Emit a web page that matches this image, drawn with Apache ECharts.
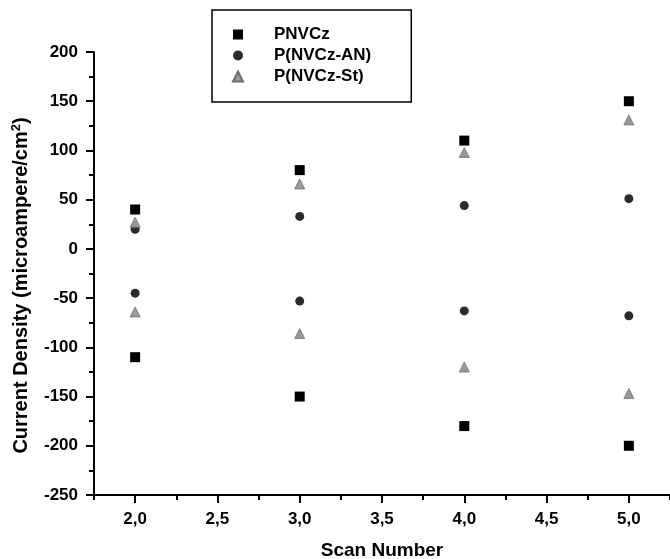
<!DOCTYPE html>
<html>
<head>
<meta charset="utf-8">
<script src="https://cdn.jsdelivr.net/npm/echarts@6/dist/echarts.min.js"></script>
<style>
  html, body { margin: 0; padding: 0; background: #fff; }
  #chart { width: 670px; height: 559px; }
</style>
</head>
<body>
<div id="chart"></div>
<script>
// Scan numbers and the anodic / cathodic current densities measured at each scan
const scans = [2, 3, 4, 5];
const pnvczUpper = [40, 80, 110, 150];
const pnvczLower = [-110, -150, -180, -200];
const anUpper = [20, 33, 44, 51];
const anLower = [-45, -53, -63, -68];
const stUpper = [27, 66, 98, 131];
const stLower = [-64, -86, -120, -147];

const seriesNames = ['PNVCz', 'P(NVCz-AN)', 'P(NVCz-St)'];

// Axis ticks
const xMajorTicks = [2.0, 2.5, 3.0, 3.5, 4.0, 4.5, 5.0];
const yTicks = [-250, -200, -150, -100, -50, 0, 50, 100, 150, 200];

const FONT = '"Liberation Sans", Arial, sans-serif';

function pairs(upper, lower) {
  const out = [];
  scans.forEach((s, i) => {
    out.push([s, upper[i]]);
    out.push([s, lower[i]]);
  });
  return out;
}

const chart = echarts.init(document.getElementById('chart'), null, { renderer: 'canvas' });

const axisLabelStyle = { color: '#000', fontFamily: FONT, fontWeight: 'bold', fontSize: 17 };

chart.setOption({
  animation: false,
  backgroundColor: '#fff',
  grid: { left: 94, right: 0, top: 52, bottom: 64, containLabel: false, outerBoundsMode: 'none' },
  legend: {
    orient: 'vertical',
    left: 212,
    top: 10,
    padding: [16, 40, 17, 20],
    borderColor: '#000',
    borderWidth: 1.5,
    itemWidth: 10,
    itemHeight: 10,
    itemGap: 4,
    data: seriesNames,
    textStyle: {
      color: '#000', fontFamily: FONT, fontWeight: 'bold', fontSize: 17,
      lineHeight: 17, padding: [0, 0, 0, 26]
    }
  },
  xAxis: [
    {
      // quarter-step minor ticks, labels on the half steps
      type: 'value',
      min: 1.75,
      max: 5.25,
      interval: 0.25,
      name: 'Scan Number',
      nameLocation: 'middle',
      nameGap: 46,
      nameTextStyle: { color: '#000', fontFamily: FONT, fontWeight: 'bold', fontSize: 19 },
      axisLine: { show: true, onZero: false, lineStyle: { color: '#000', width: 2 } },
      axisTick: { show: true, inside: false, length: 5, lineStyle: { color: '#000', width: 2 } },
      axisLabel: Object.assign({
        margin: 16,
        customValues: xMajorTicks,
        formatter: v => v.toFixed(1).replace('.', ',')
      }, axisLabelStyle),
      splitLine: { show: false }
    },
    {
      // longer major ticks at the labelled values
      type: 'value',
      position: 'bottom',
      min: 1.75,
      max: 5.25,
      interval: 0.25,
      axisLine: { show: false, onZero: false },
      axisTick: { show: true, inside: false, length: 8, customValues: xMajorTicks,
                  lineStyle: { color: '#000', width: 2 } },
      axisLabel: { show: false },
      splitLine: { show: false }
    }
  ],
  yAxis: {
    type: 'value',
    min: -250,
    max: 200,
    interval: 50,
    name: 'Current Density (microampere/cm{sup|2})',
    nameLocation: 'middle',
    nameRotate: 90,
    nameGap: 53,
    nameTextStyle: {
      color: '#000', fontFamily: FONT, fontWeight: 'bold', fontSize: 20, lineHeight: 23,
      padding: [0, 24, 0, 0],
      rich: {
        sup: { fontFamily: FONT, fontWeight: 'bold', fontSize: 13, verticalAlign: 'top', lineHeight: 23, color: '#000' }
      }
    },
    axisLine: { show: true, onZero: false, lineStyle: { color: '#000', width: 2 } },
    axisTick: { show: true, inside: false, length: 8, lineStyle: { color: '#000', width: 2 } },
    minorTick: { show: true, splitNumber: 2, length: 5, lineStyle: { color: '#000', width: 2 } },
    axisLabel: Object.assign({
      margin: 16,
      customValues: yTicks,
      formatter: v => String(v)
    }, axisLabelStyle),
    splitLine: { show: false },
    minorSplitLine: { show: false }
  },
  series: [
    {
      name: seriesNames[0],
      type: 'scatter',
      xAxisIndex: 0,
      symbol: 'rect',
      symbolSize: 10,
      itemStyle: { color: '#000', opacity: 1 },
      data: pairs(pnvczUpper, pnvczLower)
    },
    {
      name: seriesNames[1],
      type: 'scatter',
      xAxisIndex: 0,
      symbol: 'circle',
      symbolSize: 9,
      itemStyle: { color: '#2b2b2b', opacity: 1 },
      data: pairs(anUpper, anLower)
    },
    {
      name: seriesNames[2],
      type: 'scatter',
      xAxisIndex: 0,
      symbol: 'triangle',
      symbolSize: 10,
      itemStyle: { color: '#9a9a9a', borderColor: '#6e6e6e', borderWidth: 0.8, opacity: 1 },
      data: pairs(stUpper, stLower)
    }
  ]
});
</script>
</body>
</html>
